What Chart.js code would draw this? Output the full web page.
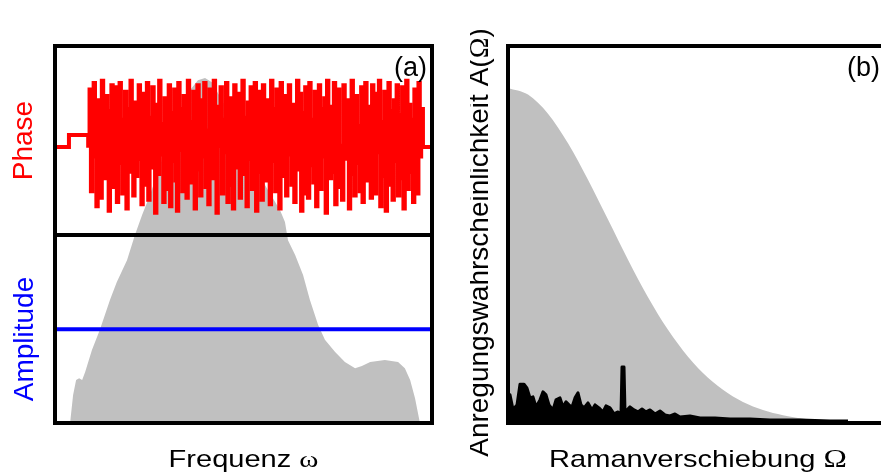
<!DOCTYPE html>
<html>
<head>
<meta charset="utf-8">
<script src="https://cdn.jsdelivr.net/npm/chart.js@4/dist/chart.umd.min.js"></script>
<style>
  html, body { margin: 0; padding: 0; background: #fff; overflow: hidden; width: 881px; height: 474px; position: relative; }
  canvas { position: absolute; top: 0; }
  #pulse { left: 0; }
  #raman { left: 470px; }
</style>
</head>
<body>
<canvas id="pulse" width="470" height="474"></canvas>
<canvas id="raman" width="420" height="474"></canvas>
<script>
// ---------- Panel (a): shaped pulse, spectrum + phase mask ----------
// Spectral intensity of the pulse (frequency in arb. units 0..100)
const spectrumFreq = [4.0, 4.8, 5.6, 6.4, 7.2, 8.0, 9.8, 11.9, 14.6, 16.4, 19.1, 21.2, 23.1, 25.2, 27.9, 30.5,
  33.2, 35.8, 37.9, 39.8, 41.6, 44.3, 47.7, 51.7, 55.7, 59.7, 61.0, 61.8, 63.7, 65.8, 67.6, 69.8, 71.6,
  74.3, 76.9, 79.6, 81.4, 83.6, 87.5, 91.0, 92.8, 94.2, 95.5, 96.8];
const spectrumAmp = [0, 0.081, 0.125, 0.130, 0.125, 0.148, 0.212, 0.270, 0.357, 0.409, 0.472, 0.545, 0.603,
  0.661, 0.748, 0.835, 0.907, 0.965, 0.994, 1.000, 0.988, 0.936, 0.864, 0.777, 0.690, 0.617, 0.583, 0.530,
  0.487, 0.429, 0.357, 0.284, 0.241, 0.206, 0.177, 0.159, 0.165, 0.177, 0.183, 0.177, 0.159, 0.125, 0.072, 0];

// Flat amplitude mask
const amplitudeFreq = [0, 100];
const amplitudeLevel = [0.272, 0.272];

// Phase mask (rad): constant outside the pulse, random inside
const phaseLeadFreq = [0, 3.7];
const phaseLeadVal = [3.14, 3.70];
const phaseStart = 8.8;      // first pixel of the modulator window
const phaseStep = 0.362;     // pixel pitch
const phaseNoise = [
  3.2, 5.8, 1.1, 4.6, 6.1, 2.7, 0.4, 5.3, 3.9, 0.8, 6.2, 4.1, 1.7, 5.5, 2.9, 0.2, 4.8, 6.0, 1.3, 3.5,
  5.9, 0.6, 2.4, 6.1, 4.4, 1.0, 3.1, 5.7, 0.3, 4.9, 2.0, 6.2, 3.6, 0.9, 5.2, 1.8, 4.0, 6.0, 2.6, 0.5,
  5.6, 3.3, 1.4, 6.1, 0.7, 4.5, 2.2, 5.9, 3.8, 0.1, 5.1, 1.9, 6.2, 2.8, 4.2, 0.6, 5.4, 1.2, 3.7, 6.0,
  0.4, 4.7, 2.5, 5.8, 1.6, 0.2, 6.1, 3.0, 4.9, 1.1, 5.5, 2.3, 0.8, 6.2, 4.3, 1.5, 3.4, 5.7, 0.3, 2.1,
  6.0, 4.6, 0.9, 5.3, 2.7, 6.1, 1.3, 3.9, 0.5, 5.8, 4.0, 1.7, 6.2, 2.4, 0.1, 5.0, 3.2, 5.9, 1.0, 4.4,
  2.9, 6.1, 0.6, 3.6, 5.4, 1.4, 0.3, 6.0, 4.8, 2.2, 5.6, 0.8, 3.1, 6.2, 1.9, 4.5, 0.4, 5.2, 2.6, 5.9,
  1.2, 4.1, 6.1, 0.2, 3.5, 5.7, 2.0, 0.7, 6.0, 4.6, 1.6, 5.3, 3.0, 0.5, 6.2, 2.5, 4.9, 1.1, 5.8, 3.7,
  0.3, 6.1, 1.8, 4.3, 5.5, 0.9, 2.8, 6.0, 4.0, 1.4, 5.1, 0.6, 3.3, 6.2, 2.1, 5.6, 0.2, 4.7, 1.0, 5.9,
  3.8, 0.8, 6.1, 2.3, 4.4, 1.5, 5.7, 0.4, 3.0, 6.0, 1.2, 4.9, 2.7, 5.4, 0.1, 6.2, 3.5, 1.7, 5.0, 2.0,
  6.1, 0.5, 4.2, 5.8, 1.3, 3.2, 0.7, 6.0, 2.6, 4.6, 5.3, 0.3, 1.9, 6.2, 3.9, 0.9, 5.5, 2.4, 4.1, 1.1,
  5.9, 0.6, 3.4, 6.1, 1.6, 2.2, 5.0, 0.8, 6.0, 3.6, 1.0, 5.6, 2.9, 6.2, 0.4, 4.3, 1.8, 5.7, 0.2, 3.9,
  6.1, 1.4, 4.8, 0.7, 5.3, 2.5, 6.0, 0.9, 4.6, 1.7, 5.9, 0.3, 3.3, 6.2, 1.2, 5.1, 2.0, 4.4, 0.6, 5.8,
  3.1, 1.0, 6.1, 2.7, 4.9];
const phaseTailFreq = [97.6, 100];
const phaseTailVal = [3.14, 3.14];

// ---------- Panel (b): Raman excitation probability ----------
const ramanShift = [0, 0.2, 0.4, 0.6, 0.8, 1.0, 1.2, 1.4, 1.6, 1.8, 2.0, 2.2, 2.4, 2.6, 2.8, 3.0, 3.2, 3.4];
const excitationEnvelope = [1.000, 0.980, 0.923, 0.835, 0.726, 0.607, 0.487, 0.375, 0.278, 0.198, 0.135,
  0.089, 0.056, 0.034, 0.020, 0.011, 0.006, 0.003];

const measuredShift = [0.00, 0.02, 0.05, 0.09, 0.12, 0.16, 0.19, 0.22, 0.25, 0.28, 0.32, 0.35, 0.38, 0.41,
  0.45, 0.48, 0.52, 0.55, 0.58, 0.61, 0.64, 0.67, 0.70, 0.73, 0.76, 0.80, 0.84, 0.87, 0.91, 0.95, 0.98,
  1.02, 1.06, 1.10, 1.13, 1.14, 1.16, 1.17, 1.22, 1.26, 1.30, 1.34, 1.38, 1.42, 1.47, 1.52, 1.57, 1.62,
  1.67, 1.72, 1.82, 1.92, 2.07, 2.22, 2.42, 2.62, 2.92, 3.22, 3.40];
const measuredExcitation = [0.084, 0.084, 0.040, 0.054, 0.116, 0.116, 0.104, 0.075, 0.078, 0.048, 0.069,
  0.093, 0.084, 0.054, 0.039, 0.069, 0.075, 0.048, 0.063, 0.054, 0.048, 0.075, 0.090, 0.054, 0.045, 0.060,
  0.039, 0.054, 0.045, 0.033, 0.051, 0.045, 0.027, 0.033, 0.027, 0.167, 0.167, 0.033, 0.048, 0.039, 0.033,
  0.042, 0.033, 0.039, 0.027, 0.036, 0.024, 0.021, 0.027, 0.018, 0.021, 0.015, 0.015, 0.012, 0.012, 0.009,
  0.009, 0.006, 0.006];

// ---------- helpers ----------
const zip = (xs, ys) => xs.map((x, i) => ({ x, y: ys[i] }));
const phasePoints = [
  ...zip(phaseLeadFreq, phaseLeadVal),
  ...phaseNoise.map((v, i) => ({ x: phaseStart + i * phaseStep, y: v })),
  ...zip(phaseTailFreq, phaseTailVal)
];
const AMP_PANEL_TOP = 0.545;  // boundary between phase and amplitude sub-panels (amplitude units)
const SANS = '"Liberation Sans", Arial, sans-serif';
const SERIF = '"Liberation Serif", "Times New Roman", serif';

// Draws a run of text pieces (each with its own font) centred on (x, y).
function textRun(ctx, pieces, x, y, opt) {
  ctx.save();
  ctx.translate(x, y);
  if (opt.rotate) ctx.rotate(-Math.PI / 2);
  ctx.scale(opt.sx || 1, opt.sy || 1);
  ctx.fillStyle = opt.color || '#000';
  ctx.textAlign = 'left';
  ctx.textBaseline = 'alphabetic';
  const widths = pieces.map(p => { ctx.font = p.font; return ctx.measureText(p.t).width; });
  const total = widths.reduce((a, b) => a + b, 0);
  let cx = opt.align === 'right' ? -total : -total / 2;
  pieces.forEach((p, i) => { ctx.font = p.font; ctx.fillText(p.t, cx, 0); cx += widths[i]; });
  ctx.restore();
}

const framePlugin = {
  id: 'frame',
  afterDatasetsDraw(chart, args, opts) {
    const { ctx, chartArea: a } = chart;
    ctx.save();
    ctx.strokeStyle = '#000';
    ctx.lineWidth = 4;
    if (opts.split !== undefined) {
      const ys = chart.scales.y.getPixelForValue(opts.split);
      ctx.beginPath();
      ctx.moveTo(a.left, ys);
      ctx.lineTo(a.right, ys);
      ctx.stroke();
    }
    ctx.strokeRect(a.left, a.top, a.right - a.left, a.bottom - a.top);
    ctx.restore();
  },
  afterDraw(chart, args, opts) {
    const { ctx, chartArea: a } = chart;
    const cx = (a.left + a.right) / 2;
    if (opts.xTitle) textRun(ctx, opts.xTitle, cx + (opts.xShift || 0), a.bottom + 44, { sx: 1.21 });
    if (opts.tag) textRun(ctx, [{ t: opts.tag, font: '27px ' + SANS }], opts.tagX, a.top + 30, { align: 'right' });
    (opts.yTitles || []).forEach(t => {
      const ya = chart.scales.y;
      const yc = (ya.getPixelForValue(t.from) + ya.getPixelForValue(t.to)) / 2;
      textRun(ctx, t.pieces, t.x, yc + t.dy, { rotate: true, color: t.color });
    });
  }
};

const common = {
  responsive: false,
  animation: false,
  devicePixelRatio: 1,
  plugins: { legend: { display: false }, tooltip: { enabled: false } },
  elements: { line: { tension: 0 }, point: { radius: 0 } }
};

new Chart(document.getElementById('pulse'), {
  type: 'line',
  data: {
    datasets: [
      { label: 'Phase', data: phasePoints, yAxisID: 'yPh', borderColor: '#ff0000', borderWidth: 4,
        stepped: true, fill: false, pointRadius: 0, order: 0 },
      { label: 'Amplitude', data: zip(amplitudeFreq, amplitudeLevel), yAxisID: 'y', borderColor: '#0000ff',
        borderWidth: 4, fill: false, pointRadius: 0, order: 1 },
      { label: 'Spektrum', data: zip(spectrumFreq, spectrumAmp), yAxisID: 'y', borderWidth: 0,
        borderColor: 'rgba(0,0,0,0)', backgroundColor: '#c0c0c0', fill: 'origin', pointRadius: 0, order: 2 }
    ]
  },
  options: {
    ...common,
    layout: { padding: { left: 55, top: 46, right: 38, bottom: 51 } },
    plugins: {
      ...common.plugins,
      frame: {
        split: AMP_PANEL_TOP,
        xTitle: [{ t: 'Frequenz ', font: '24px ' + SANS }, { t: '\u03c9', font: '24px ' + SERIF }],
        tag: '(a)', tagX: 427,
        yTitles: [
          { pieces: [{ t: 'Phase', font: '28px ' + SANS }], from: AMP_PANEL_TOP, to: 1.093, x: 32, dy: 0, color: '#ff0000' },
          { pieces: [{ t: 'Amplitude', font: '28px ' + SANS }], from: 0, to: AMP_PANEL_TOP, x: 33, dy: 10, color: '#0000ff' }
        ]
      }
    },
    scales: {
      x: { type: 'linear', min: 0, max: 100, display: false },
      y: { type: 'linear', min: 0, max: 1.093, display: false },
      yPh: { type: 'linear', min: -9.61, max: 7.81, display: false }
    }
  },
  plugins: [framePlugin]
});

new Chart(document.getElementById('raman'), {
  type: 'line',
  data: {
    datasets: [
      { label: 'A(\u03a9) gemessen', data: zip(measuredShift, measuredExcitation), borderColor: '#000',
        borderWidth: 3, borderJoinStyle: 'round', backgroundColor: '#000', fill: 'origin', pointRadius: 0, order: 0 },
      { label: 'Einh\u00fcllende', data: zip(ramanShift, excitationEnvelope), borderWidth: 0,
        borderColor: 'rgba(0,0,0,0)', backgroundColor: '#c0c0c0', fill: 'origin', pointRadius: 0, order: 1,
        cubicInterpolationMode: 'monotone' }
    ]
  },
  options: {
    ...common,
    layout: { padding: { left: 38, top: 46, right: 6, bottom: 51 } },
    plugins: {
      ...common.plugins,
      frame: {
        xTitle: [{ t: 'Ramanverschiebung ', font: '24px ' + SANS }, { t: '\u03a9', font: '26px ' + SERIF }],
        xShift: 2,
        tag: '(b)', tagX: 410,
        yTitles: [
          { pieces: [{ t: 'Anregungswahrscheinlichkeit A(', font: '28px ' + SANS },
                     { t: '\u03a9', font: '28px ' + SERIF },
                     { t: ')', font: '28px ' + SANS }],
            from: 0, to: 1.125, x: 18, dy: 8, color: '#000' }
        ]
      }
    },
    scales: {
      x: { type: 'linear', min: 0, max: 3.76, display: false },
      y: { type: 'linear', min: 0, max: 1.125, display: false }
    }
  },
  plugins: [framePlugin]
});
</script>
</body>
</html>
